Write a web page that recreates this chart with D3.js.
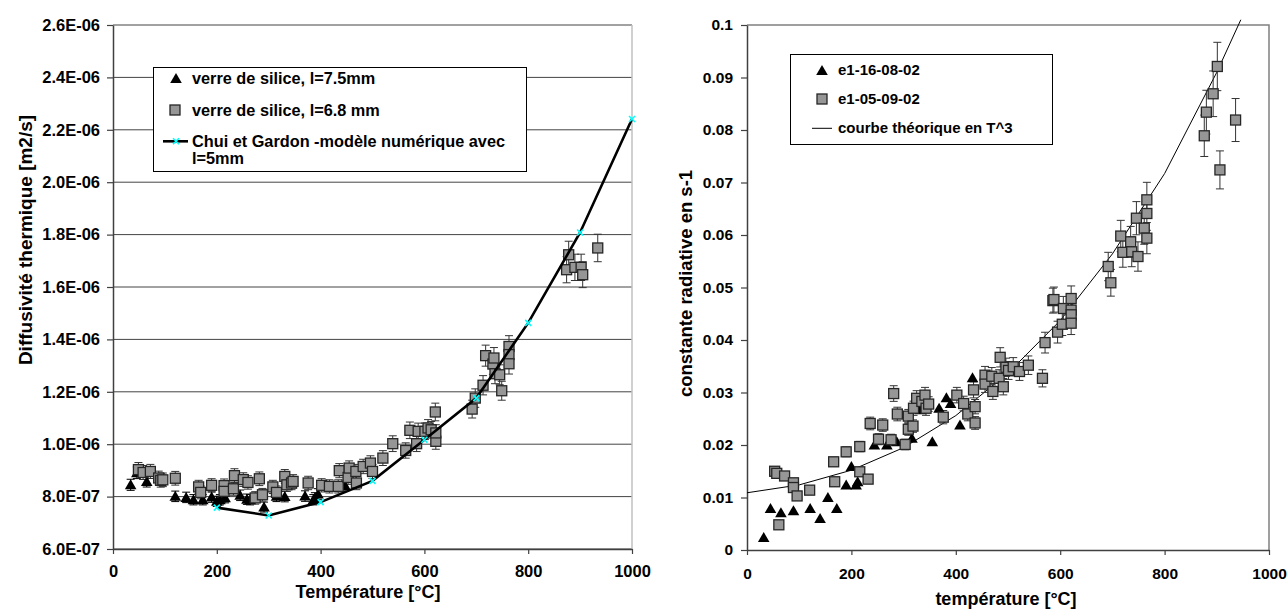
<!DOCTYPE html>
<html><head><meta charset="utf-8">
<script src="https://cdn.jsdelivr.net/npm/d3@7"></script>
<style>
body{margin:0;background:#fff;}
text{font-family:"Liberation Sans",Arial,sans-serif;font-weight:bold;fill:#000;}
</style></head><body>
<svg id="c" width="1287" height="610"></svg>
<script>
// ---------- data ----------
const xTicks = [0, 200, 400, 600, 800, 1000];
const leftYTicks = [6e-7, 8e-7, 1e-6, 1.2e-6, 1.4e-6, 1.6e-6, 1.8e-6, 2e-6, 2.2e-6, 2.4e-6, 2.6e-6];
const rightYTicks = [0, 0.01, 0.02, 0.03, 0.04, 0.05, 0.06, 0.07, 0.08, 0.09, 0.1];

const leftSeriesNames = ["verre de silice, l=7.5mm", "verre de silice, l=6.8 mm", "Chui et Gardon -modèle numérique avec", "l=5mm"];
const rightSeriesNames = ["e1-16-08-02", "e1-05-09-02", "courbe théorique en T^3"];

// verre de silice, l=7.5mm  [T °C, diffusivity m2/s]
const silice75 = [[34,8.45e-7],[46,8.91e-7],[65,8.58e-7],[120,8.01e-7],[141,7.97e-7],[155,7.88e-7],[173,7.88e-7],
  [190,7.98e-7],[200,7.82e-7],[206,7.88e-7],[216,7.96e-7],[245,8.05e-7],[258,7.9e-7],[264,7.88e-7],[291,7.6e-7],
  [315,8.01e-7],[331,8.0e-7],[370,8.02e-7],[386,7.88e-7],[389,7.95e-7],[395,8.1e-7],[447,8.42e-7]];
// verre de silice, l=6.8 mm
const silice68 = [[49,9.03e-7],[58,8.92e-7],[72,8.96e-7],[88,8.71e-7],[92,8.62e-7],[96,8.64e-7],[120,8.7e-7],
  [165,8.37e-7],[169,8.16e-7],[190,8.43e-7],[214,8.42e-7],[214,8.2e-7],[232,8.3e-7],[234,8.8e-7],[251,8.65e-7],
  [260,8.54e-7],[274,7.95e-7],[282,8.68e-7],[288,8.07e-7],[308,8.37e-7],[315,8.16e-7],[331,8.77e-7],[335,8.45e-7],
  [344,8.52e-7],[347,8.58e-7],[376,8.52e-7],[402,8.43e-7],[417,8.39e-7],[434,8.39e-7],[436,8.99e-7],[453,8.73e-7],
  [455,9.09e-7],[468,8.96e-7],[469,8.52e-7],[482,9.15e-7],[496,9.28e-7],[500,8.96e-7],[520,9.47e-7],[539,10.02e-7],
  [564,9.76e-7],[572,10.53e-7],[585,10.02e-7],[588,10.49e-7],[601,10.49e-7],[607,10.62e-7],[613,10.55e-7],
  [622,10.11e-7],[622,10.43e-7],[621,11.23e-7],[692,11.34e-7],[698,11.76e-7],[713,12.25e-7],[718,13.38e-7],
  [732,13.06e-7],[734,13.29e-7],[736,12.69e-7],[745,12.65e-7],[749,12.04e-7],[763,13.73e-7],[763,13.42e-7],
  [763,13.07e-7],[874,16.66e-7],[878,17.23e-7],[890,16.75e-7],[902,16.75e-7],[905,16.47e-7],[934,17.49e-7]];
// Chui et Gardon - modèle numérique
const chuiGardon = [[200,7.58e-7],[300,7.28e-7],[400,7.79e-7],[500,8.6e-7],[600,10.17e-7],[700,11.76e-7],
  [800,14.63e-7],[900,18.08e-7],[1000,22.41e-7]];

// e1-16-08-02 [T °C, constante radiative s-1]
const e1_160802 = [[32,0.0024],[45,0.0079],[65,0.0071],[89,0.0075],[121,0.0079],[140,0.006],[155,0.01],[172,0.0079],
  [190,0.0124],[200,0.0159],[209,0.0124],[212,0.013],[244,0.02],[268,0.02],[287,0.0206],[316,0.0213],[332,0.0267],
  [355,0.0206],[368,0.027],[382,0.029],[390,0.0279],[408,0.0238],[432,0.0328]];
// e1-05-09-02
const e1_050902 = [[53,0.015],[57,0.0146],[61,0.0048],[72,0.0141],[89,0.0128],[89,0.0119],[96,0.0103],[120,0.0114],
  [166,0.0168],[168,0.013],[190,0.0187],[216,0.0197],[216,0.0149],[232,0.0135],[236,0.0241],[252,0.0211],[260,0.0238],
  [276,0.021],[281,0.0298],[288,0.0259],[303,0.0201],[309,0.023],[309,0.0255],[318,0.0236],[319,0.027],[325,0.0289],
  [335,0.0283],[341,0.0295],[343,0.027],[348,0.0278],[376,0.0253],[402,0.0295],[415,0.0279],[423,0.0259],[434,0.0305],
  [437,0.0273],[437,0.0242],[456,0.0333],[456,0.0316],[469,0.0331],[471,0.0302],[483,0.0327],[485,0.0367],[491,0.0311],
  [496,0.0348],[501,0.0342],[510,0.0349],[522,0.034],[539,0.0352],[566,0.0327],[571,0.0395],[586,0.0475],[588,0.0477],
  [595,0.0415],[604,0.043],[606,0.046],[621,0.0479],[621,0.0457],[621,0.0448],[621,0.0432],[692,0.054],[697,0.0509],
  [716,0.0598],[720,0.0567],[735,0.0587],[737,0.0568],[746,0.0632],[749,0.0559],[761,0.0613],[766,0.0641],[766,0.0594],
  [766,0.0667],[876,0.0789],[880,0.0834],[893,0.0869],[901,0.0921],[906,0.0724],[936,0.0819]];
// courbe théorique en T^3
const courbeT3 = [[0,0.0109],[100,0.0124],[200,0.0152],[300,0.0195],[400,0.0256],[500,0.0337],[600,0.0437],
  [700,0.0564],[800,0.0717],[900,0.091],[946,0.101]];

// ---------- drawing ----------
const svg = d3.select("#c");
const FONT = '"Liberation Sans",Arial,sans-serif';
const triPath = "M0,-5.5L5.8,4.5L-5.8,4.5Z";
const SQ_FILL = "#969696", SQ_STROKE = "#262626";

function fmtE(d){
  const [m,e] = d.toExponential(1).split("e");
  const n = +e;
  return m + "E" + (n < 0 ? "-" : "+") + String(Math.abs(n)).padStart(2,"0");
}
function fmtR(d){ return d === 0 ? "0" : String(+d.toFixed(2)); }

function errorBars(g, data, x, y, rel, color){
  const eb = g.append("g").attr("stroke", color).attr("stroke-width", 1).attr("fill","none");
  data.forEach(([t,v]) => {
    const xp = x(t), y1 = y(v*(1-rel)), y2 = y(v*(1+rel));
    eb.append("line").attr("x1",xp).attr("x2",xp).attr("y1",y1).attr("y2",y2);
    eb.append("line").attr("x1",xp-4).attr("x2",xp+4).attr("y1",y1).attr("y2",y1);
    eb.append("line").attr("x1",xp-4).attr("x2",xp+4).attr("y1",y2).attr("y2",y2);
  });
}
function triangles(g, data, x, y){
  g.append("g").selectAll("path").data(data).join("path")
    .attr("d", triPath).attr("fill","#000")
    .attr("transform", d => `translate(${x(d[0])},${y(d[1])})`);
}
function squares(g, data, x, y){
  g.append("g").selectAll("rect").data(data).join("rect")
    .attr("x", d => x(d[0]) - 5).attr("y", d => y(d[1]) - 5)
    .attr("width", 10).attr("height", 10)
    .attr("fill", SQ_FILL).attr("stroke", SQ_STROKE).attr("stroke-width", 1.3);
}
function cyanX(g, cx, cy){
  g.append("path").attr("d", `M${cx-3},${cy-3}L${cx+3},${cy+3}M${cx-3},${cy+3}L${cx+3},${cy-3}`)
    .attr("stroke","#00FFFF").attr("stroke-width",1.6);
}
function styleAxis(g, size){
  g.select(".domain").attr("stroke","#404040").attr("stroke-width",1.5);
  g.selectAll(".tick line").attr("stroke","#404040").attr("stroke-width",1.2);
  g.selectAll(".tick text").style("font-family",FONT).style("font-weight","bold").style("font-size",size+"px").attr("fill","#000");
}

// ===== Left chart =====
const xL = d3.scaleLinear().domain([0,1000]).range([113,632]);
const yL = d3.scaleLinear().domain([6e-7,2.6e-6]).range([549,25]);
const gL = svg.append("g");

// gridlines
gL.append("g").selectAll("line").data(leftYTicks).join("line")
  .attr("x1", xL(0)).attr("x2", xL(1000)).attr("y1", d => yL(d)).attr("y2", d => yL(d))
  .attr("stroke","#444").attr("stroke-width",1);
// right plot border
gL.append("line").attr("x1",xL(1000)).attr("x2",xL(1000)).attr("y1",yL(2.6e-6)).attr("y2",yL(6e-7))
  .attr("stroke","#c0c0c0").attr("stroke-width",1.5);

const axLY = gL.append("g").attr("transform",`translate(${xL(0)},0)`)
  .call(d3.axisLeft(yL).tickValues(leftYTicks).tickFormat(fmtE).tickSize(6).tickSizeOuter(0).tickPadding(7));
styleAxis(axLY, 16.5);
const axLX = gL.append("g").attr("transform",`translate(0,${yL(6e-7)})`)
  .call(d3.axisBottom(xL).tickValues(xTicks).tickFormat(d3.format("d")).tickSize(5).tickSizeOuter(0).tickPadding(11));
styleAxis(axLX, 16.5);

errorBars(gL, silice75, xL, yL, 0.025, "#000");
errorBars(gL, silice68, xL, yL, 0.03, "#333");
triangles(gL, silice75, xL, yL);
squares(gL, silice68, xL, yL);
gL.append("path").datum(chuiGardon)
  .attr("d", d3.line().x(d => xL(d[0])).y(d => yL(d[1])))
  .attr("fill","none").attr("stroke","#000").attr("stroke-width",2.6);
chuiGardon.forEach(d => cyanX(gL, xL(d[0]), yL(d[1])));

// axis titles
gL.append("text").attr("transform","translate(32,240) rotate(-90)").attr("text-anchor","middle")
  .style("font-size","19px").text("Diffusivité thermique [m2/s]");
gL.append("text").attr("x",368).attr("y",598).attr("text-anchor","middle")
  .style("font-size","18px").text("Température [°C]");

// legend
const lgL = gL.append("g");
lgL.append("rect").attr("x",153.5).attr("y",67.5).attr("width",373).attr("height",104)
  .attr("fill","#fff").attr("stroke","#000").attr("stroke-width",1);
lgL.append("path").attr("d",triPath).attr("transform","translate(176,78.5)").attr("fill","#000");
lgL.append("rect").attr("x",170).attr("y",105).attr("width",10).attr("height",10)
  .attr("fill",SQ_FILL).attr("stroke",SQ_STROKE).attr("stroke-width",1.3);
lgL.append("line").attr("x1",163).attr("x2",188).attr("y1",141.3).attr("y2",141.3).attr("stroke","#000").attr("stroke-width",2.6);
cyanX(lgL, 176, 141.3);
[[83.5,0],[115.5,1],[146.5,2],[163.5,3]].forEach(([yb,i]) =>
  lgL.append("text").attr("x",192).attr("y",yb).style("font-size","16.3px").text(leftSeriesNames[i]));

// ===== Right chart =====
const xR = d3.scaleLinear().domain([0,1000]).range([747,1269]);
const yR = d3.scaleLinear().domain([0,0.1]).range([550,25]);
const gR = svg.append("g");

gR.append("path").attr("d",`M${xR(0)},${yR(0.1)}H${xR(1000)}V${yR(0)}`)
  .attr("fill","none").attr("stroke","#808080").attr("stroke-width",1.5);

const axRY = gR.append("g").attr("transform",`translate(${xR(0)},0)`)
  .call(d3.axisLeft(yR).tickValues(rightYTicks).tickFormat(fmtR).tickSize(6).tickSizeOuter(0).tickPadding(8));
styleAxis(axRY, 15.5);
const axRX = gR.append("g").attr("transform",`translate(0,${yR(0)})`)
  .call(d3.axisBottom(xR).tickValues(xTicks).tickFormat(d3.format("d")).tickSize(5).tickSizeOuter(0).tickPadding(12.5));
styleAxis(axRX, 15.5);

gR.append("path").datum(courbeT3)
  .attr("d", d3.line().x(d => xR(d[0])).y(d => yR(d[1])))
  .attr("fill","none").attr("stroke","#000").attr("stroke-width",1);
errorBars(gR, e1_050902, xR, yR, 0.05, "#333");
triangles(gR, e1_160802, xR, yR);
squares(gR, e1_050902, xR, yR);

gR.append("text").attr("transform","translate(692,283.5) rotate(-90)").attr("text-anchor","middle")
  .style("font-size","18.5px").text("constante radiative en s-1");
gR.append("text").attr("x",1006).attr("y",605).attr("text-anchor","middle")
  .style("font-size","18px").text("température [°C]");

const lgR = gR.append("g");
lgR.append("rect").attr("x",790.5).attr("y",54.5).attr("width",262).attr("height",90)
  .attr("fill","#fff").attr("stroke","#000").attr("stroke-width",1);
lgR.append("path").attr("d",triPath).attr("transform","translate(822,70.5)").attr("fill","#000");
lgR.append("rect").attr("x",817).attr("y",94).attr("width",10).attr("height",10)
  .attr("fill",SQ_FILL).attr("stroke",SQ_STROKE).attr("stroke-width",1.3);
lgR.append("line").attr("x1",812).attr("x2",832).attr("y1",128.3).attr("y2",128.3).attr("stroke","#000").attr("stroke-width",1);
[[75.4,0],[104.4,1],[133.4,2]].forEach(([yb,i]) =>
  lgR.append("text").attr("x",838).attr("y",yb).style("font-size","15px").text(rightSeriesNames[i]));
</script>
</body></html>
